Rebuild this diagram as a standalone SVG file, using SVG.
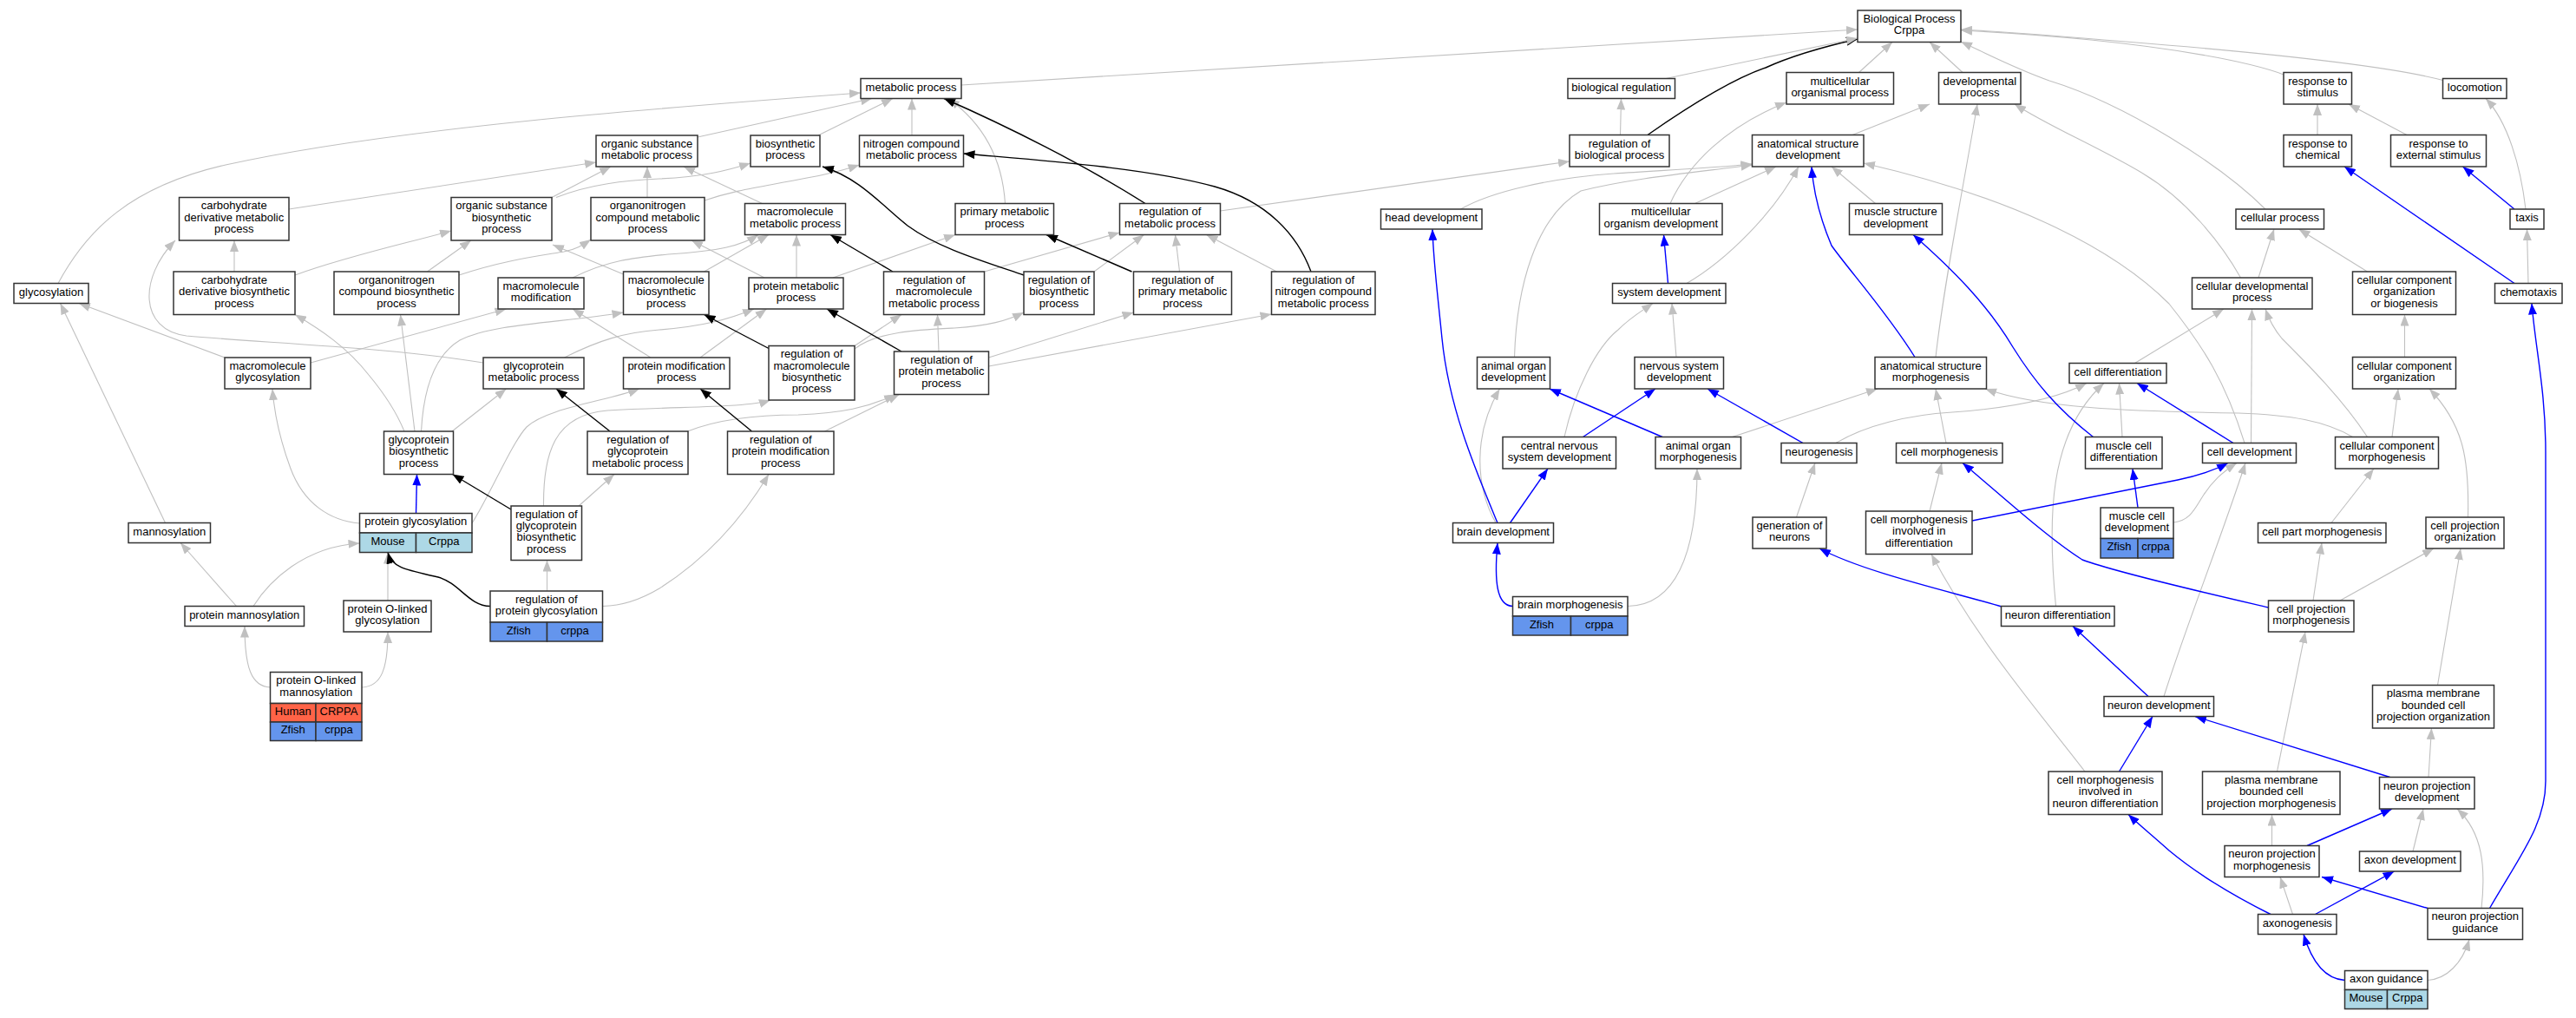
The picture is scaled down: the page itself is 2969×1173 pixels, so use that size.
<svg xmlns="http://www.w3.org/2000/svg" width="2969" height="1173" viewBox="0 0 2969 1173">
<style>
.n rect{fill:#fff;stroke:#333;stroke-width:1.5}
text{font-family:"Liberation Sans",Arial,sans-serif;font-size:13px;fill:#000;text-anchor:middle}
.n text{transform:translate(0px,-1.5px)}
.e{fill:none;stroke:#c0c0c0;stroke-width:1.1;marker-end:url(#ag)}
.b{fill:none;stroke:#0000ff;stroke-width:1.4;marker-end:url(#ab)}
.k{fill:none;stroke:#000;stroke-width:1.4;marker-end:url(#ak)}
.n rect.mo{fill:#add8e6}.n rect.zf{fill:#6495ed}.n rect.hu{fill:#ff6347}
</style>
<defs>
<marker id="ag" viewBox="0 0 13 10" refX="13" refY="5" markerWidth="13" markerHeight="10" markerUnits="userSpaceOnUse" orient="auto"><path d="M0,0L13,5L0,10z" fill="#c0c0c0"/></marker>
<marker id="ab" viewBox="0 0 13 10" refX="13" refY="5" markerWidth="13" markerHeight="10" markerUnits="userSpaceOnUse" orient="auto"><path d="M0,0L13,5L0,10z" fill="#0000ff"/></marker>
<marker id="ak" viewBox="0 0 13 10" refX="13" refY="5" markerWidth="13" markerHeight="10" markerUnits="userSpaceOnUse" orient="auto"><path d="M0,0L13,5L0,10z" fill="#000"/></marker>
</defs>
<rect width="2969" height="1173" fill="#fff"/>
<g id="edges">
<path class="e" d="M1108,98 L2141,34"/>
<path class="e" d="M67,326.5 C100,265 150,215 260,190 C450,148 750,125 992,107"/>
<path class="e" d="M333,241 L687,187"/>
<path class="e" d="M636,227.5 L704,192"/>
<path class="e" d="M641,227.5 C680,212 720,208 760,206 C810,204 840,196 865,188"/>
<path class="e" d="M270,313 L270,277"/>
<path class="e" d="M340,317 C400,295 470,280 520,266"/>
<path class="e" d="M492.5,313 L543,277"/>
<path class="e" d="M529,317 C580,300 620,295 650,290 C665,287 672,282 681,276"/>
<path class="e" d="M746,227.5 L746,192"/>
<path class="e" d="M812,231 C850,218 880,215 930,205 C960,200 975,195 990.5,190"/>
<path class="e" d="M804,158 L1005,113.5"/>
<path class="e" d="M943,156 L1029,113.5"/>
<path class="e" d="M1051,156 L1051,113.5"/>
<path class="e" d="M1158.5,234.5 C1155,180 1130,140 1093,113.5"/>
<path class="e" d="M878.5,234.5 L788,192"/>
<path class="e" d="M660,320 C700,300 730,297 770,293 C830,289 855,283 874,270.5"/>
<path class="e" d="M811.5,313 L886,270.5"/>
<path class="e" d="M918,320 L918,270.5"/>
<path class="e" d="M718.5,316 L637,282"/>
<path class="e" d="M521,497 L583.5,448"/>
<path class="e" d="M466,497 C455,470 440,450 425,432 C400,400 370,380 340,362.5"/>
<path class="e" d="M478,497 L461.5,362.5"/>
<path class="e" d="M485.5,497 C488,450 500,410 530,392 C570,372 650,372 718.5,360"/>
<path class="e" d="M881,320 L797,277"/>
<path class="e" d="M960,320 L1101,270.5"/>
<path class="e" d="M650.5,412 C690,392 720,383 760,380 C810,376 840,368 869,356"/>
<path class="e" d="M807,412 L883.5,356"/>
<path class="e" d="M750,412 L660,356"/>
<path class="e" d="M358,418 L583.5,356"/>
<path class="e" d="M259,412 L91,349.5"/>
<path class="e" d="M557,418 C450,400 300,395 215,387 C160,380 160,320 202,277"/>
<path class="e" d="M414.5,603 C380,600 350,580 335,540 C322,505 316,475 314,448"/>
<path class="e" d="M544,603 C565,570 590,510 607,492 C630,470 700,462 737,448"/>
<path class="e" d="M667,583 L708,546.5"/>
<path class="e" d="M626.5,583 C626,520 640,478 700,473 C790,468 860,470 888,461"/>
<path class="e" d="M792.5,497 C830,482 880,478 920,478 C970,476 1000,470 1032,454.5"/>
<path class="e" d="M950.5,497 L1036.5,454.5"/>
<path class="e" d="M630.5,681 L630.5,645.5"/>
<path class="e" d="M694.5,698.5 C720,698 740,690 760,678 C820,640 860,590 886,546.5"/>
<path class="e" d="M272.5,698.5 L208,625.5"/>
<path class="e" d="M292,698.5 C310,670 350,630 414.5,626"/>
<path class="e" d="M447,692 L447,636.5"/>
<path class="e" d="M190.5,602.5 L69.5,349.5"/>
<path class="e" d="M311.5,792 C290,791 282,770 282,721.5"/>
<path class="e" d="M417,792 C440,791 447,770 447,728"/>
<path class="e" d="M985,398.5 L1039,362.5"/>
<path class="e" d="M985,402 C1010,382 1060,380 1100,378 C1140,375 1160,370 1180,360"/>
<path class="e" d="M1082,405 L1080.5,362.5"/>
<path class="e" d="M1139.5,412 L1306.5,360"/>
<path class="e" d="M1139.5,422 L1465.5,362"/>
<path class="e" d="M1134.5,313 L1290.5,268"/>
<path class="e" d="M1261,313 L1318.5,270.5"/>
<path class="e" d="M1359.5,313 L1354.5,270.5"/>
<path class="e" d="M1471.5,313 L1390.5,270.5"/>
<path class="e" d="M1406.5,243 L1809,186"/>
<path class="k" d="M1320,234.5 C1250,190 1160,145 1088,113.5"/>
<path class="k" d="M1180,317 C1130,300 1080,285 1046,260 C1015,235 990,205 948,192"/>
<path class="k" d="M1304.5,313 L1206,270.5"/>
<path class="k" d="M1029,313 L957,270.5"/>
<path class="k" d="M1511,313 C1495,270 1460,232 1400,215 C1320,193 1200,185 1110.5,177"/>
<path class="k" d="M1039,405 L953,356"/>
<path class="k" d="M886,401.5 L811.5,362.5"/>
<path class="k" d="M589,587 L521.5,546.5"/>
<path class="k" d="M703,497 L641,448"/>
<path class="k" d="M866.5,497 L807,448"/>
<path class="k" d="M565,698.5 C540,698 530,672 505,665 C470,657 452,655 447,636.5"/>
<path class="k" d="M1899,155.5 C1950,120 2000,90 2035,78 C2070,62 2110,52 2141,45"/>
<path class="b" d="M479.5,591.5 L480.5,546.5"/>
<path class="e" d="M1920,90.5 L2141,44"/>
<path class="e" d="M2142.5,83.5 L2181,48.5"/>
<path class="e" d="M2262,83.5 L2224,48.5"/>
<path class="e" d="M2611,241 C2560,190 2450,120 2362,93 C2320,78 2290,62 2260,48"/>
<path class="e" d="M2632,86 C2590,70 2500,55 2410,46 C2350,40 2300,37 2260,35"/>
<path class="e" d="M2815.5,92.5 C2750,75 2600,60 2450,48 C2380,42 2320,37 2260,34"/>
<path class="e" d="M1867.5,155.5 L1868.5,113.5"/>
<path class="e" d="M1925,234.5 C1945,190 1990,145 2059,118"/>
<path class="e" d="M1683.5,241 C1720,220 1790,205 1860,200 C1920,196 1970,194 2019.5,189"/>
<path class="e" d="M1745.5,411.5 C1748,330 1770,250 1822,220 C1880,205 1960,198 2019.5,190"/>
<path class="e" d="M1953.5,234.5 L2047,192"/>
<path class="e" d="M1944,326.5 C1990,300 2045,245 2073,192"/>
<path class="e" d="M2161.5,234.5 L2111,192"/>
<path class="e" d="M2587,510.5 C2565,440 2540,400 2500,350 C2440,290 2330,230 2148,188"/>
<path class="e" d="M2135,155.5 L2224,120"/>
<path class="e" d="M2231,411.5 C2240,330 2262,220 2279,120"/>
<path class="e" d="M2582.5,320 C2560,280 2520,230 2470,200 C2420,170 2360,145 2322,120"/>
<path class="e" d="M1932,411.5 L1927,349.5"/>
<path class="e" d="M1803,503.5 C1815,450 1840,400 1865,380 C1880,365 1893,358 1905,349.5"/>
<path class="e" d="M1724,602.5 C1700,560 1698,500 1728.5,448"/>
<path class="e" d="M1876,698.5 C1930,698 1956,640 1956,540"/>
<path class="e" d="M1996.5,503.5 L2164,448"/>
<path class="e" d="M2070.5,596 L2092,533.5"/>
<path class="e" d="M2116,510.5 C2150,490 2200,478 2250,475 C2320,470 2370,460 2405,441.5"/>
<path class="e" d="M2711.5,503.5 C2680,485 2640,478 2580,476 C2450,474 2350,470 2288,448"/>
<path class="e" d="M2243,510.5 L2231,448"/>
<path class="e" d="M2224,589 L2238,533.5"/>
<path class="e" d="M2369.5,698.5 C2360,600 2360,500 2425,441.5"/>
<path class="e" d="M2446,503.5 L2442.5,441.5"/>
<path class="e" d="M2460.5,418.5 L2563,356"/>
<path class="e" d="M2594.5,510.5 L2595.5,356"/>
<path class="e" d="M2728.5,503.5 C2700,460 2660,420 2630,390 C2620,378 2615,368 2611,356"/>
<path class="e" d="M2771.5,411.5 L2771.5,362.5"/>
<path class="e" d="M2728.5,313 L2649.5,264"/>
<path class="e" d="M2603,320 L2621,264"/>
<path class="e" d="M2757,503.5 L2764,448"/>
<path class="e" d="M2844.5,596 C2846,530 2840,490 2800,448"/>
<path class="e" d="M2687,602.5 L2736,540"/>
<path class="e" d="M2666,692 L2676,625.5"/>
<path class="e" d="M2697,692 L2805,632"/>
<path class="e" d="M2809.5,789.5 L2836,632"/>
<path class="e" d="M2505,602 C2525,600 2530,585 2540,570 C2550,555 2560,545 2578,533.5"/>
<path class="e" d="M2494,802.5 C2520,720 2560,620 2588,533.5"/>
<path class="e" d="M2403,889 C2350,820 2280,740 2226,638.5"/>
<path class="e" d="M2624.5,889 L2657,728"/>
<path class="e" d="M2799,895.5 L2802.5,839"/>
<path class="e" d="M2618.5,974.5 L2618.5,938.5"/>
<path class="e" d="M2781,981 L2793,932"/>
<path class="e" d="M2860,1046.5 C2865,1000 2862,960 2832,932"/>
<path class="e" d="M2642.5,1053.5 L2628,1010.5"/>
<path class="e" d="M2798,1129.5 C2820,1128 2838,1110 2846,1082.5"/>
<path class="e" d="M2914,326.5 L2912.5,264"/>
<path class="e" d="M2911,241 C2905,190 2890,140 2865,113.5"/>
<path class="e" d="M2671,155.5 L2671,120"/>
<path class="e" d="M2774,155.5 L2707,120"/>
<path class="b" d="M1726,602.5 C1700,540 1670,470 1662,390 C1656,330 1652,300 1651,264"/>
<path class="b" d="M1922.5,326.5 L1917.5,270.5"/>
<path class="b" d="M2207,411.5 C2175,360 2130,310 2111,283 C2097,250 2090,220 2088,192"/>
<path class="b" d="M1916,503.5 L1786,448"/>
<path class="b" d="M1824.5,503.5 L1908,448"/>
<path class="b" d="M2078,510.5 L1968,448"/>
<path class="b" d="M1740.5,602.5 L1784,540"/>
<path class="b" d="M1743.5,698.5 C1725,698 1722,670 1726,625.5"/>
<path class="b" d="M2307,699 C2250,682 2150,660 2097,632"/>
<path class="b" d="M2412.5,503.5 C2370,470 2345,440 2320,400 C2290,350 2250,310 2205,270.5"/>
<path class="b" d="M2574,510.5 L2463,441.5"/>
<path class="b" d="M2464,585 L2458,540"/>
<path class="b" d="M2273,600 L2510,553 C2530,549 2550,543 2568,533.5"/>
<path class="b" d="M2614.5,700 C2550,685 2440,660 2400,645 C2360,620 2300,565 2262,533.5"/>
<path class="b" d="M2476,802.5 L2389,721.5"/>
<path class="b" d="M2754.5,895.5 L2530,825.5"/>
<path class="b" d="M2442.5,889 L2481,825.5"/>
<path class="b" d="M2659,974.5 L2757,932"/>
<path class="b" d="M2798,1046.5 L2676,1010.5"/>
<path class="b" d="M2668.5,1053.5 L2759.5,1004"/>
<path class="b" d="M2617,1053.5 C2570,1030 2530,1005 2500,980 C2480,962 2465,950 2453,938.5"/>
<path class="b" d="M2702.5,1129.5 C2680,1128 2665,1110 2655,1076.5"/>
<path class="b" d="M2869.5,1046.5 C2905,985 2934,950 2934,900 L2934,520 C2934,450 2922,400 2918,349.5"/>
<path class="b" d="M2898,326.5 L2702,192"/>
<path class="b" d="M2898,241 L2838.5,192"/>
</g>
<g id="glyc" class="n"><rect x="16" y="326.5" width="86" height="23"/><text x="59" y="342">glycosylation</text></g>
<g id="cdmp" class="n"><rect x="206.5" y="227.5" width="126.5" height="49.5"/><text><tspan x="269.75" y="242.95">carbohydrate</tspan><tspan x="269.75" y="256.25">derivative metabolic</tspan><tspan x="269.75" y="269.55">process</tspan></text></g>
<g id="osbp" class="n"><rect x="520" y="227.5" width="116" height="49.5"/><text><tspan x="578" y="242.95">organic substance</tspan><tspan x="578" y="256.25">biosynthetic</tspan><tspan x="578" y="269.55">process</tspan></text></g>
<g id="cdbp" class="n"><rect x="200" y="313" width="140" height="49.5"/><text><tspan x="270" y="328.45">carbohydrate</tspan><tspan x="270" y="341.75">derivative biosynthetic</tspan><tspan x="270" y="355.05">process</tspan></text></g>
<g id="ocbp" class="n"><rect x="385" y="313" width="144" height="49.5"/><text><tspan x="457" y="328.45">organonitrogen</tspan><tspan x="457" y="341.75">compound biosynthetic</tspan><tspan x="457" y="355.05">process</tspan></text></g>
<g id="mmod" class="n"><rect x="574" y="320" width="99" height="36"/><text><tspan x="623.5" y="335.35">macromolecule</tspan><tspan x="623.5" y="348.65">modification</tspan></text></g>
<g id="mglyc" class="n"><rect x="259" y="412" width="99" height="36"/><text><tspan x="308.5" y="427.35">macromolecule</tspan><tspan x="308.5" y="440.65">glycosylation</tspan></text></g>
<g id="gpmp" class="n"><rect x="557" y="412" width="116" height="36"/><text><tspan x="615" y="427.35">glycoprotein</tspan><tspan x="615" y="440.65">metabolic process</tspan></text></g>
<g id="osmp" class="n"><rect x="687" y="156" width="117" height="36"/><text><tspan x="745.5" y="171.35">organic substance</tspan><tspan x="745.5" y="184.65">metabolic process</tspan></text></g>
<g id="gpbp" class="n"><rect x="442.5" y="497" width="80" height="49.5"/><text><tspan x="482.5" y="512.45">glycoprotein</tspan><tspan x="482.5" y="525.75">biosynthetic</tspan><tspan x="482.5" y="539.05">process</tspan></text></g>
<g id="pglyc" class="n"><rect x="414.5" y="591.5" width="129.5" height="22.5"/><rect class="mo" x="414.5" y="614" width="65" height="22.5"/><rect class="mo" x="479.5" y="614" width="64.5" height="22.5"/><text x="479.25" y="606.75">protein glycosylation</text><text x="447" y="629.25">Mouse</text><text x="511.75" y="629.25">Crppa</text></g>
<g id="mann" class="n"><rect x="148" y="602.5" width="94.5" height="23"/><text x="195.25" y="618">mannosylation</text></g>
<g id="pmann" class="n"><rect x="213" y="698.5" width="137.5" height="23"/><text x="281.75" y="714">protein mannosylation</text></g>
<g id="polg" class="n"><rect x="396" y="692" width="101" height="36"/><text><tspan x="446.5" y="707.35">protein O-linked</tspan><tspan x="446.5" y="720.65">glycosylation</tspan></text></g>
<g id="rgpbp" class="n"><rect x="589" y="583" width="81.5" height="62.5"/><text><tspan x="629.75" y="598.3">regulation of</tspan><tspan x="629.75" y="611.6">glycoprotein</tspan><tspan x="629.75" y="624.9">biosynthetic</tspan><tspan x="629.75" y="638.2">process</tspan></text></g>
<g id="rpglyc" class="n"><rect x="565" y="681" width="129.5" height="36"/><rect class="zf" x="565" y="717" width="65.5" height="22"/><rect class="zf" x="630.5" y="717" width="64" height="22"/><text><tspan x="629.75" y="696.35">regulation of</tspan><tspan x="629.75" y="709.65">protein glycosylation</tspan></text><text x="597.75" y="732">Zfish</text><text x="662.5" y="732">crppa</text></g>
<g id="polm" class="n"><rect x="311.5" y="774.5" width="105.5" height="36"/><rect class="hu" x="311.5" y="810.5" width="52.5" height="21.5"/><rect class="hu" x="364" y="810.5" width="53" height="21.5"/><rect class="zf" x="311.5" y="832" width="52.5" height="21.5"/><rect class="zf" x="364" y="832" width="53" height="21.5"/><text><tspan x="364.25" y="789.85">protein O-linked</tspan><tspan x="364.25" y="803.15">mannosylation</tspan></text><text x="337.75" y="825.25">Human</text><text x="390.5" y="825.25">CRPPA</text><text x="337.75" y="846.75">Zfish</text><text x="390.5" y="846.75">crppa</text></g>
<g id="rgpmp" class="n"><rect x="677" y="497" width="116" height="49.5"/><text><tspan x="735" y="512.45">regulation of</tspan><tspan x="735" y="525.75">glycoprotein</tspan><tspan x="735" y="539.05">metabolic process</tspan></text></g>
<g id="metab" class="n"><rect x="992" y="90.5" width="116" height="23"/><text x="1050" y="106">metabolic process</text></g>
<g id="bios" class="n"><rect x="865" y="156" width="80" height="36"/><text><tspan x="905" y="171.35">biosynthetic</tspan><tspan x="905" y="184.65">process</tspan></text></g>
<g id="ncmp" class="n"><rect x="990.5" y="156" width="120" height="36"/><text><tspan x="1050.5" y="171.35">nitrogen compound</tspan><tspan x="1050.5" y="184.65">metabolic process</tspan></text></g>
<g id="ocmp" class="n"><rect x="681" y="227.5" width="131" height="49.5"/><text><tspan x="746.5" y="242.95">organonitrogen</tspan><tspan x="746.5" y="256.25">compound metabolic</tspan><tspan x="746.5" y="269.55">process</tspan></text></g>
<g id="mmp" class="n"><rect x="858.5" y="234.5" width="116" height="36"/><text><tspan x="916.5" y="249.85">macromolecule</tspan><tspan x="916.5" y="263.15">metabolic process</tspan></text></g>
<g id="pmp" class="n"><rect x="1101" y="234.5" width="113.5" height="36"/><text><tspan x="1157.75" y="249.85">primary metabolic</tspan><tspan x="1157.75" y="263.15">process</tspan></text></g>
<g id="rmp" class="n"><rect x="1290.5" y="234.5" width="116" height="36"/><text><tspan x="1348.5" y="249.85">regulation of</tspan><tspan x="1348.5" y="263.15">metabolic process</tspan></text></g>
<g id="mbp" class="n"><rect x="718.5" y="313" width="98.5" height="49.5"/><text><tspan x="767.75" y="328.45">macromolecule</tspan><tspan x="767.75" y="341.75">biosynthetic</tspan><tspan x="767.75" y="355.05">process</tspan></text></g>
<g id="protmp" class="n"><rect x="863" y="320" width="109" height="36"/><text><tspan x="917.5" y="335.35">protein metabolic</tspan><tspan x="917.5" y="348.65">process</tspan></text></g>
<g id="rmmp" class="n"><rect x="1018.5" y="313" width="116" height="49.5"/><text><tspan x="1076.5" y="328.45">regulation of</tspan><tspan x="1076.5" y="341.75">macromolecule</tspan><tspan x="1076.5" y="355.05">metabolic process</tspan></text></g>
<g id="rbp" class="n"><rect x="1180" y="313" width="81" height="49.5"/><text><tspan x="1220.5" y="328.45">regulation of</tspan><tspan x="1220.5" y="341.75">biosynthetic</tspan><tspan x="1220.5" y="355.05">process</tspan></text></g>
<g id="rpmp" class="n"><rect x="1306.5" y="313" width="113" height="49.5"/><text><tspan x="1363" y="328.45">regulation of</tspan><tspan x="1363" y="341.75">primary metabolic</tspan><tspan x="1363" y="355.05">process</tspan></text></g>
<g id="rncmp" class="n"><rect x="1465.5" y="313" width="119.5" height="49.5"/><text><tspan x="1525.25" y="328.45">regulation of</tspan><tspan x="1525.25" y="341.75">nitrogen compound</tspan><tspan x="1525.25" y="355.05">metabolic process</tspan></text></g>
<g id="pmod" class="n"><rect x="718.5" y="412" width="122.5" height="36"/><text><tspan x="779.75" y="427.35">protein modification</tspan><tspan x="779.75" y="440.65">process</tspan></text></g>
<g id="rmbp" class="n"><rect x="886" y="398.5" width="99" height="62.5"/><text><tspan x="935.5" y="413.8">regulation of</tspan><tspan x="935.5" y="427.1">macromolecule</tspan><tspan x="935.5" y="440.4">biosynthetic</tspan><tspan x="935.5" y="453.7">process</tspan></text></g>
<g id="rprotmp" class="n"><rect x="1030.5" y="405" width="109" height="49.5"/><text><tspan x="1085" y="420.45">regulation of</tspan><tspan x="1085" y="433.75">protein metabolic</tspan><tspan x="1085" y="447.05">process</tspan></text></g>
<g id="rpmod" class="n"><rect x="838.5" y="497" width="122.5" height="49.5"/><text><tspan x="899.75" y="512.45">regulation of</tspan><tspan x="899.75" y="525.75">protein modification</tspan><tspan x="899.75" y="539.05">process</tspan></text></g>
<g id="bp" class="n"><rect x="2141" y="12" width="119" height="36.5"/><text><tspan x="2200.5" y="27.6">Biological Process</tspan><tspan x="2200.5" y="40.9">Crppa</tspan></text></g>
<g id="breg" class="n"><rect x="1807" y="90.5" width="123.5" height="23"/><text x="1868.75" y="106">biological regulation</text></g>
<g id="mop" class="n"><rect x="2059" y="83.5" width="123.5" height="36.5"/><text><tspan x="2120.75" y="99.1">multicellular</tspan><tspan x="2120.75" y="112.4">organismal process</tspan></text></g>
<g id="rbiop" class="n"><rect x="1809" y="155.5" width="115" height="36.5"/><text><tspan x="1866.5" y="171.1">regulation of</tspan><tspan x="1866.5" y="184.4">biological process</tspan></text></g>
<g id="asd" class="n"><rect x="2019.5" y="155.5" width="128.5" height="36.5"/><text><tspan x="2083.75" y="171.1">anatomical structure</tspan><tspan x="2083.75" y="184.4">development</tspan></text></g>
<g id="headd" class="n"><rect x="1591.5" y="241" width="116.5" height="23"/><text x="1649.75" y="256.5">head development</text></g>
<g id="mod" class="n"><rect x="1843.5" y="234.5" width="141.5" height="36"/><text><tspan x="1914.25" y="249.85">multicellular</tspan><tspan x="1914.25" y="263.15">organism development</tspan></text></g>
<g id="msd" class="n"><rect x="2131.5" y="234.5" width="107" height="36"/><text><tspan x="2185" y="249.85">muscle structure</tspan><tspan x="2185" y="263.15">development</tspan></text></g>
<g id="sysd" class="n"><rect x="1858.5" y="326.5" width="130.5" height="23"/><text x="1923.75" y="342">system development</text></g>
<g id="devp" class="n"><rect x="2234.5" y="83.5" width="94.5" height="36.5"/><text><tspan x="2281.75" y="99.1">developmental</tspan><tspan x="2281.75" y="112.4">process</tspan></text></g>
<g id="rstim" class="n"><rect x="2632" y="83.5" width="78.5" height="36.5"/><text><tspan x="2671.25" y="99.1">response to</tspan><tspan x="2671.25" y="112.4">stimulus</tspan></text></g>
<g id="loco" class="n"><rect x="2815.5" y="90.5" width="73.5" height="23"/><text x="2852.25" y="106">locomotion</text></g>
<g id="rchem" class="n"><rect x="2632" y="155.5" width="78.5" height="36.5"/><text><tspan x="2671.25" y="171.1">response to</tspan><tspan x="2671.25" y="184.4">chemical</tspan></text></g>
<g id="rext" class="n"><rect x="2755.5" y="155.5" width="110" height="36.5"/><text><tspan x="2810.5" y="171.1">response to</tspan><tspan x="2810.5" y="184.4">external stimulus</tspan></text></g>
<g id="cellp" class="n"><rect x="2577" y="241" width="101.5" height="23"/><text x="2627.75" y="256.5">cellular process</text></g>
<g id="taxis" class="n"><rect x="2893" y="241" width="39" height="23"/><text x="2912.5" y="256.5">taxis</text></g>
<g id="cdevp" class="n"><rect x="2526.5" y="320" width="138.5" height="36"/><text><tspan x="2595.75" y="335.35">cellular developmental</tspan><tspan x="2595.75" y="348.65">process</tspan></text></g>
<g id="ccob" class="n"><rect x="2711.5" y="313" width="119" height="49.5"/><text><tspan x="2771" y="328.45">cellular component</tspan><tspan x="2771" y="341.75">organization</tspan><tspan x="2771" y="355.05">or biogenesis</tspan></text></g>
<g id="chemo" class="n"><rect x="2875.5" y="326.5" width="77.5" height="23"/><text x="2914.25" y="342">chemotaxis</text></g>
<g id="aod" class="n"><rect x="1702.5" y="411.5" width="84" height="36.5"/><text><tspan x="1744.5" y="427.1">animal organ</tspan><tspan x="1744.5" y="440.4">development</tspan></text></g>
<g id="nsd" class="n"><rect x="1884" y="411.5" width="102.5" height="36.5"/><text><tspan x="1935.25" y="427.1">nervous system</tspan><tspan x="1935.25" y="440.4">development</tspan></text></g>
<g id="asm" class="n"><rect x="2161" y="411.5" width="128.5" height="36.5"/><text><tspan x="2225.25" y="427.1">anatomical structure</tspan><tspan x="2225.25" y="440.4">morphogenesis</tspan></text></g>
<g id="cnsd" class="n"><rect x="1732" y="503.5" width="130.5" height="36.5"/><text><tspan x="1797.25" y="519.1">central nervous</tspan><tspan x="1797.25" y="532.4">system development</tspan></text></g>
<g id="aom" class="n"><rect x="1908" y="503.5" width="98.5" height="36.5"/><text><tspan x="1957.25" y="519.1">animal organ</tspan><tspan x="1957.25" y="532.4">morphogenesis</tspan></text></g>
<g id="neurog" class="n"><rect x="2053" y="510.5" width="87" height="23"/><text x="2096.5" y="526">neurogenesis</text></g>
<g id="cellm" class="n"><rect x="2185.5" y="510.5" width="122.5" height="23"/><text x="2246.75" y="526">cell morphogenesis</text></g>
<g id="braind" class="n"><rect x="1674.5" y="602.5" width="116" height="23"/><text x="1732.5" y="618">brain development</text></g>
<g id="genn" class="n"><rect x="2020" y="596" width="85" height="36"/><text><tspan x="2062.5" y="611.35">generation of</tspan><tspan x="2062.5" y="624.65">neurons</tspan></text></g>
<g id="cmid" class="n"><rect x="2150.5" y="589" width="122.5" height="49.5"/><text><tspan x="2211.75" y="604.45">cell morphogenesis</tspan><tspan x="2211.75" y="617.75">involved in</tspan><tspan x="2211.75" y="631.05">differentiation</tspan></text></g>
<g id="brainm" class="n"><rect x="1743.5" y="687.5" width="132.5" height="22.5"/><rect class="zf" x="1743.5" y="710" width="67" height="22"/><rect class="zf" x="1810.5" y="710" width="65.5" height="22"/><text x="1809.75" y="702.75">brain morphogenesis</text><text x="1777" y="725">Zfish</text><text x="1843.25" y="725">crppa</text></g>
<g id="celld" class="n"><rect x="2385" y="418.5" width="112" height="23"/><text x="2441" y="434">cell differentiation</text></g>
<g id="cco" class="n"><rect x="2711.5" y="411.5" width="119" height="36.5"/><text><tspan x="2771" y="427.1">cellular component</tspan><tspan x="2771" y="440.4">organization</tspan></text></g>
<g id="mcd" class="n"><rect x="2403.5" y="503.5" width="88.5" height="36.5"/><text><tspan x="2447.75" y="519.1">muscle cell</tspan><tspan x="2447.75" y="532.4">differentiation</tspan></text></g>
<g id="celldev" class="n"><rect x="2538.5" y="510.5" width="108" height="23"/><text x="2592.5" y="526">cell development</text></g>
<g id="ccm" class="n"><rect x="2691.5" y="503.5" width="119" height="36.5"/><text><tspan x="2751" y="519.1">cellular component</tspan><tspan x="2751" y="532.4">morphogenesis</tspan></text></g>
<g id="mcdev" class="n"><rect x="2421" y="585" width="84" height="35.5"/><rect class="zf" x="2421" y="620.5" width="43" height="22.5"/><rect class="zf" x="2464" y="620.5" width="41" height="22.5"/><text><tspan x="2463" y="600.1">muscle cell</tspan><tspan x="2463" y="613.4">development</tspan></text><text x="2442.5" y="635.75">Zfish</text><text x="2484.5" y="635.75">crppa</text></g>
<g id="cpm" class="n"><rect x="2602.5" y="602.5" width="147.5" height="23"/><text x="2676.25" y="618">cell part morphogenesis</text></g>
<g id="cpo" class="n"><rect x="2796" y="596" width="90" height="36"/><text><tspan x="2841" y="611.35">cell projection</tspan><tspan x="2841" y="624.65">organization</tspan></text></g>
<g id="neurd" class="n"><rect x="2306.5" y="698.5" width="130.5" height="23"/><text x="2371.75" y="714">neuron differentiation</text></g>
<g id="cprojm" class="n"><rect x="2614.5" y="692" width="98.5" height="36"/><text><tspan x="2663.75" y="707.35">cell projection</tspan><tspan x="2663.75" y="720.65">morphogenesis</tspan></text></g>
<g id="neurdev" class="n"><rect x="2425" y="802.5" width="126.5" height="23"/><text x="2488.25" y="818">neuron development</text></g>
<g id="pmbcpo" class="n"><rect x="2734.5" y="789.5" width="140" height="49.5"/><text><tspan x="2804.5" y="804.95">plasma membrane</tspan><tspan x="2804.5" y="818.25">bounded cell</tspan><tspan x="2804.5" y="831.55">projection organization</tspan></text></g>
<g id="cmind" class="n"><rect x="2361" y="889" width="131" height="49.5"/><text><tspan x="2426.5" y="904.45">cell morphogenesis</tspan><tspan x="2426.5" y="917.75">involved in</tspan><tspan x="2426.5" y="931.05">neuron differentiation</tspan></text></g>
<g id="pmbcpm" class="n"><rect x="2538.5" y="889" width="158.5" height="49.5"/><text><tspan x="2617.75" y="904.45">plasma membrane</tspan><tspan x="2617.75" y="917.75">bounded cell</tspan><tspan x="2617.75" y="931.05">projection morphogenesis</tspan></text></g>
<g id="npd" class="n"><rect x="2742.5" y="895.5" width="109.5" height="36.5"/><text><tspan x="2797.25" y="911.1">neuron projection</tspan><tspan x="2797.25" y="924.4">development</tspan></text></g>
<g id="npm" class="n"><rect x="2564" y="974.5" width="109" height="36"/><text><tspan x="2618.5" y="989.85">neuron projection</tspan><tspan x="2618.5" y="1003.15">morphogenesis</tspan></text></g>
<g id="axd" class="n"><rect x="2719.5" y="981" width="116.5" height="23"/><text x="2777.75" y="996.5">axon development</text></g>
<g id="axg" class="n"><rect x="2602.5" y="1053.5" width="90.5" height="23"/><text x="2647.75" y="1069">axonogenesis</text></g>
<g id="npg" class="n"><rect x="2798" y="1046.5" width="109.5" height="36"/><text><tspan x="2852.75" y="1061.85">neuron projection</tspan><tspan x="2852.75" y="1075.15">guidance</tspan></text></g>
<g id="axguid" class="n"><rect x="2702.5" y="1118.5" width="95.5" height="22"/><rect class="mo" x="2702.5" y="1140.5" width="49" height="22"/><rect class="mo" x="2751.5" y="1140.5" width="46.5" height="22"/><text x="2750.25" y="1133.5">axon guidance</text><text x="2727" y="1155.5">Mouse</text><text x="2774.75" y="1155.5">Crppa</text></g>
</svg>
